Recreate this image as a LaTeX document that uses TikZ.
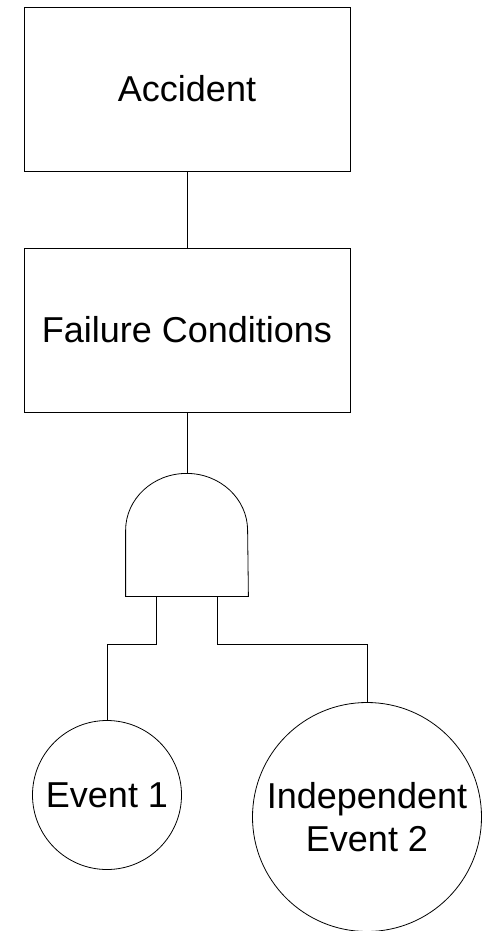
\documentclass[tikz,border=0pt]{standalone}
\usepackage{fontspec}
\setmainfont{Liberation Sans}
\usetikzlibrary{positioning}

\begin{document}
\begin{tikzpicture}[x=1pt,y=1pt,line width=0.8pt,
    font=\fontsize{36}{43}\selectfont,
    eventbox/.style={draw,minimum width=326pt,minimum height=164pt,inner sep=0pt},
    basicevent/.style={draw,circle,inner sep=0pt,align=center}]
  \useasboundingbox (0,0) rectangle (485,-931);

  %% Top event and intermediate event
  \node[eventbox] (accident) at (187,-89)  {Accident};
  \node[eventbox] (failure)  at (187,-330) {Failure Conditions};

  %% AND gate
  \node[minimum width=122pt,minimum height=123pt,inner sep=0pt] (gate) at (187,-534.5) {};
  \draw (gate.south west) -- ++(0,66)
        arc[start angle=180,end angle=0,x radius=61,y radius=57]
        -- (gate.south east) -- cycle;

  %% Basic events
  \node[basicevent,minimum size=149pt] (event1) at (107,-795) {Event 1};
  \node[basicevent,minimum size=229pt] (event2) at (367,-817) {Independent\\Event 2};

  %% Connections
  \draw (accident) -- (failure);
  \draw (failure) -- (gate);
  \draw ([xshift=-31pt]gate.south) -- ++(0,-48) -| (event1);
  \draw ([xshift=30pt]gate.south)  -- ++(0,-48) -| (event2);
\end{tikzpicture}
\end{document}
